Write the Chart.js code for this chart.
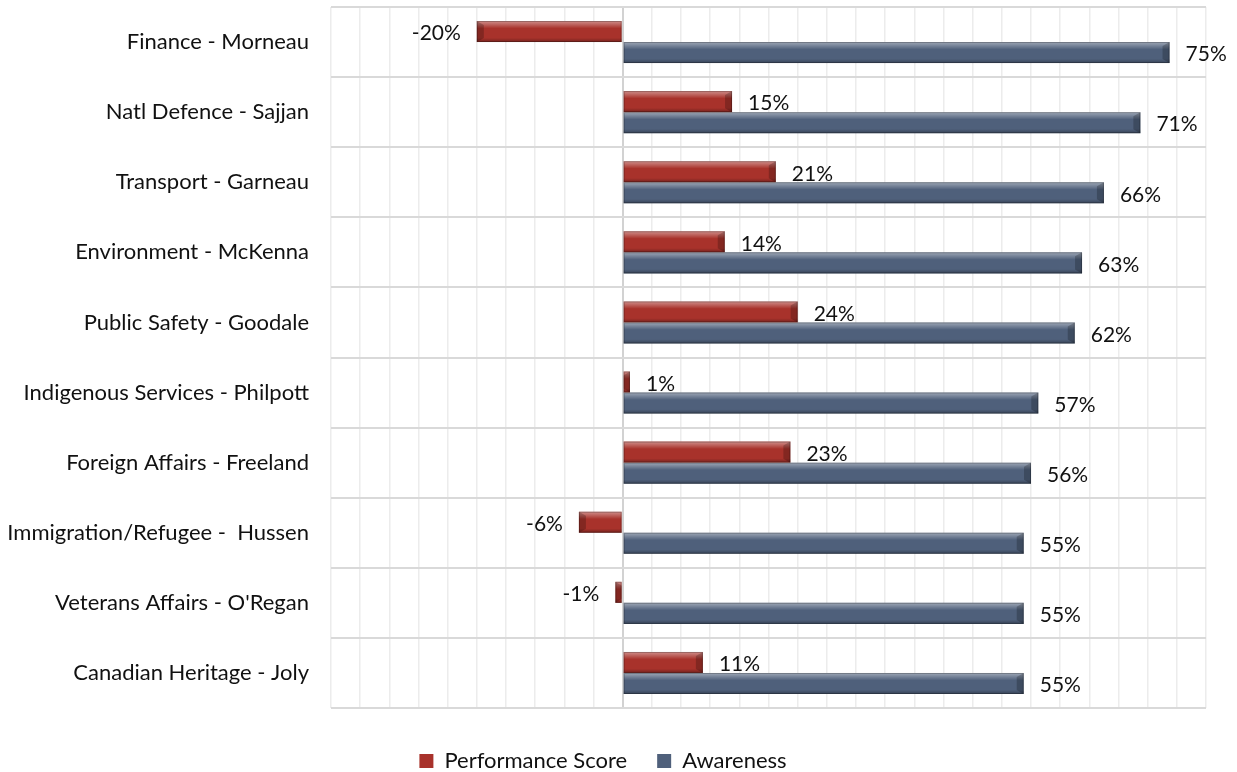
<!DOCTYPE html>
<html>
<head>
<meta charset="utf-8">
<script src="https://cdn.jsdelivr.net/npm/chart.js@4"></script>
<style>
  html, body { margin: 0; padding: 0; background: #fff; overflow: hidden; }
  #wrap { width: 1237px; height: 772px; }
</style>
</head>
<body>
<div id="wrap"><canvas id="myChart" width="1237" height="772"></canvas></div>
<script>
const ministers = [
  'Finance - Morneau',
  'Natl Defence - Sajjan',
  'Transport - Garneau',
  'Environment - McKenna',
  'Public Safety - Goodale',
  'Indigenous Services - Philpott',
  'Foreign Affairs - Freeland',
  'Immigration/Refugee -  Hussen',
  "Veterans Affairs - O'Regan",
  'Canadian Heritage - Joly'
];
const performanceScore = [-20, 15, 21, 14, 24, 1, 23, -6, -1, 11];
const awareness = [75, 71, 66, 63, 62, 57, 56, 55, 55, 55];

const FONT = 'Lato, "Open Sans", sans-serif';

// bevel look on each bar + value labels beside the bar ends
const bevelAndLabels = {
  id: 'bevelAndLabels',
  afterDatasetsDraw(chart) {
    const c = chart.ctx;
    chart.data.datasets.forEach((ds, di) => {
      const meta = chart.getDatasetMeta(di);
      meta.data.forEach((el, i) => {
        const v = ds.data[i];
        const left = Math.min(el.x, el.base);
        const w = Math.abs(el.x - el.base);
        const top = el.y - el.height / 2;
        const h = el.height;
        const g = c.createLinearGradient(0, top, 0, top + h);
        g.addColorStop(0, 'rgba(255,255,255,0.45)');
        g.addColorStop(0.18, 'rgba(255,255,255,0.22)');
        g.addColorStop(0.35, 'rgba(255,255,255,0)');
        g.addColorStop(0.8, 'rgba(0,0,0,0)');
        g.addColorStop(1, 'rgba(0,0,0,0.3)');
        c.save();
        c.fillStyle = g;
        c.fillRect(left, top, w, h);
        // end bevel
        const dir = v >= 0 ? 1 : -1;
        const bw = Math.min(7, w);
        c.beginPath();
        c.moveTo(el.x, top);
        c.lineTo(el.x - bw * dir, top + 4);
        c.lineTo(el.x - bw * dir, top + h - 4);
        c.lineTo(el.x, top + h);
        c.closePath();
        c.fillStyle = 'rgba(0,0,0,0.22)';
        c.fill();
        c.strokeStyle = 'rgba(0,0,0,0.25)';
        c.lineWidth = 1;
        c.strokeRect(left + 0.5, top + 0.5, w - 1, h - 1);
        // label
        c.fillStyle = '#111';
        c.font = '21px ' + FONT;
        c.textBaseline = 'middle';
        c.textAlign = v >= 0 ? 'left' : 'right';
        c.fillText(v + '%', el.x + 16 * dir, el.y + 2);
        c.restore();
      });
    });
  }
};

const ctx = document.getElementById('myChart').getContext('2d');

const myChart = new Chart(ctx, {
  type: 'bar',
  data: {
    labels: ministers,
    datasets: [{
      label: 'Performance Score',
      data: performanceScore,
      backgroundColor: '#a8322b',
      categoryPercentage: 0.6,
      barPercentage: 1.0
    }, {
      label: 'Awareness',
      data: awareness,
      backgroundColor: '#4f607b',
      categoryPercentage: 0.6,
      barPercentage: 1.0
    }]
  },
  options: {
    indexAxis: 'y',
    responsive: false,
    animation: false,
    scales: {
      x: {
        min: -40,
        max: 80,
        afterFit(scale) {
          scale.height = 12;
        },
        ticks: {
          display: false,
          stepSize: 4
        },
        grid: {
          color: (c) => c.tick && c.tick.value === 0 ? '#d2d2d2' : '#ececec',
          lineWidth: (c) => c.tick && c.tick.value === 0 ? 2 : 1.5,
          drawTicks: false
        },
        border: {
          display: false
        }
      },
      y: {
        afterFit(scale) {
          scale.width = 331;
          scale.paddingTop = 0;
          scale.paddingBottom = 0;
        },
        ticks: {
          color: '#111',
          padding: 22,
          font: { family: FONT, size: 22 }
        },
        grid: {
          color: '#d9d9d9',
          lineWidth: 2,
          drawTicks: false
        },
        border: {
          display: false
        }
      }
    },
    plugins: {
      legend: {
        position: 'bottom',
        labels: {
          boxWidth: 14,
          boxHeight: 14,
          padding: 30,
          color: '#111',
          font: { family: FONT, size: 22 }
        }
      },
      tooltip: { enabled: false }
    },
    layout: {
      padding: {
        left: 0,
        right: 31,
        top: 7,
        bottom: -10
      }
    }
  },
  plugins: [bevelAndLabels]
});
</script>
</body>
</html>
